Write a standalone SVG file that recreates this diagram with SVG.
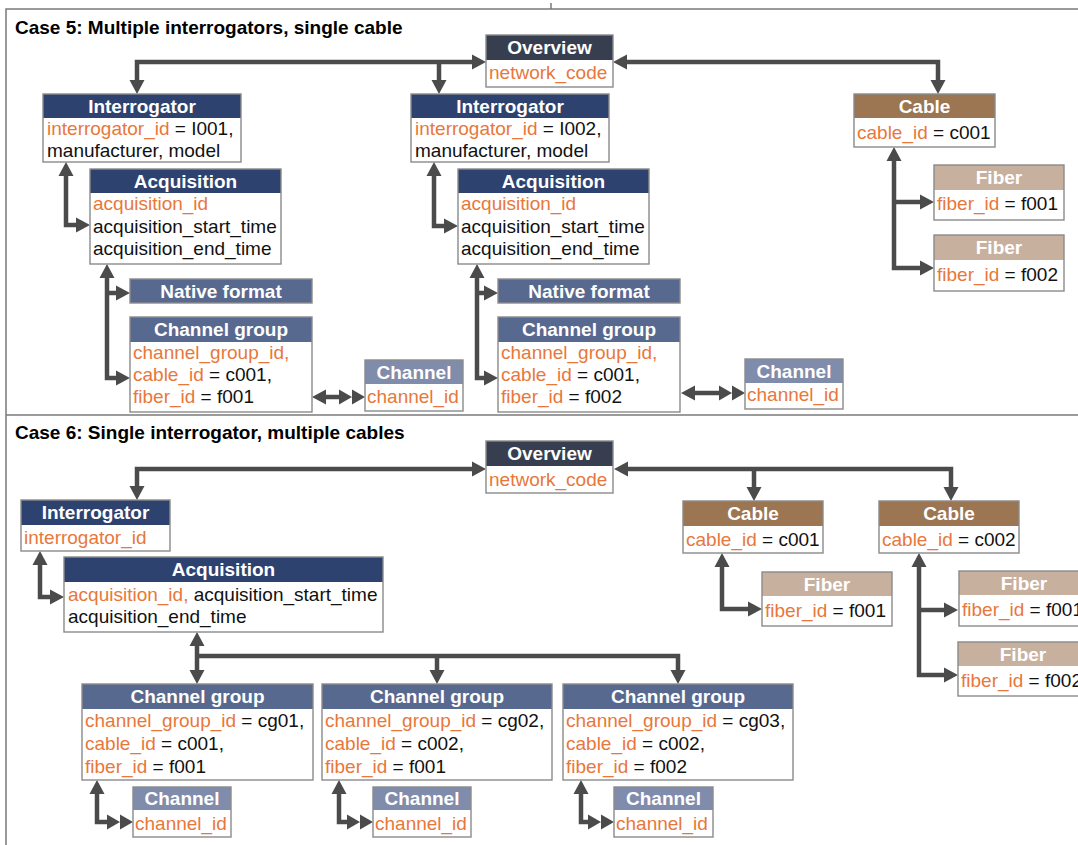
<svg xmlns="http://www.w3.org/2000/svg" width="1078" height="845" viewBox="0 0 1078 845">
  <defs>
    <style>
      text { font-family: "Liberation Sans", Arial, Helvetica, sans-serif; font-size: 19px; }
      .title { font-weight: bold; fill: #000; }
      .hd { font-weight: bold; fill: #fff; text-anchor: middle; }
      .bd { fill: #111; }
      .k { fill: #e8773b; }
      .body { fill: #fff; }
      .outline { fill: none; stroke: #8a8a8a; stroke-width: 1.4; }
      .c-ov { fill: #363e50; }
      .c-nv { fill: #2e426f; }
      .c-sl { fill: #58698f; }
      .c-ch { fill: #7f8cab; }
      .c-ca { fill: #9c7553; }
      .c-fi { fill: #c8b09f; }
      .frame { fill: none; stroke: #7a7a7a; stroke-width: 1.5; }
      .link { fill: none; stroke: #4b4b4b; stroke-width: 4.5; }
      .both { marker-start: url(#head); marker-end: url(#head); }
      .end { marker-end: url(#head); }
      .many { marker-start: url(#head); marker-end: url(#head2); }
    </style>
    <!-- single arrowhead, base sits at the path end -->
    <marker id="head" markerUnits="userSpaceOnUse" markerWidth="16" markerHeight="16" refX="0" refY="7.5" orient="auto-start-reverse" overflow="visible">
      <path d="M0,0 L14,7.5 L0,15 Z" fill="#4b4b4b"/>
    </marker>
    <!-- double arrowhead for one-to-many ends -->
    <marker id="head2" markerUnits="userSpaceOnUse" markerWidth="28" markerHeight="16" refX="0" refY="7.5" orient="auto" overflow="visible">
      <path d="M0,0 L13,7.5 L0,15 Z M13,0 L26,7.5 L13,15 Z" fill="#4b4b4b"/>
    </marker>
  </defs>

  <rect width="1078" height="845" fill="#fff"/>

  <!-- panel frames -->
  <g id="frames">
    <path class="frame" d="M6,845 L6,9 L1078,9"/>
    <path class="frame" d="M6,415 L1078,415"/>
    <path class="frame" d="M551,3 L551,9"/>
  </g>

  <text class="title" x="15" y="34">Case 5: Multiple interrogators, single cable</text>
  <text class="title" x="15" y="439">Case 6: Single interrogator, multiple cables</text>

  <!-- connectors -->
  <g id="connectors">
    <!-- case 5 -->
    <path class="link both" d="M137,80 L137,62 L472,62"/>
    <path class="link end" d="M439,62 L439,80"/>
    <path class="link both" d="M627,62 L938,62 L938,80"/>
    <path class="link both" d="M894,161 L894,268 L920,268"/>
    <path class="link end" d="M894,202 L920,202"/>
    <path class="link both" d="M66,176 L66,225 L76,225"/>
    <path class="link both" d="M107,278 L107,378 L116,378"/>
    <path class="link end" d="M107,293 L116,293"/>
    <path class="link many" d="M326,397 L339,397"/>
    <path class="link both" d="M434,176 L434,226 L444,226"/>
    <path class="link both" d="M477,278 L477,378 L484,378"/>
    <path class="link end" d="M477,293 L484,293"/>
    <path class="link many" d="M695,393 L719,393"/>
    <!-- case 6 -->
    <path class="link both" d="M137,486 L137,469 L472,469"/>
    <path class="link both" d="M628,469 L951,469 L951,487"/>
    <path class="link end" d="M754,469 L754,487"/>
    <path class="link both" d="M722,567 L722,609 L748,609"/>
    <path class="link both" d="M919,567 L919,675 L944,675"/>
    <path class="link end" d="M919,610 L944,610"/>
    <path class="link both" d="M40,565 L40,597 L50,597"/>
    <path class="link both" d="M197,646 L197,670"/>
    <path class="link end" d="M197,656 L678,656 L678,670"/>
    <path class="link end" d="M437,656 L437,670"/>
    <path class="link many" d="M97,794 L97,822 L107,822"/>
    <path class="link many" d="M339,794 L339,822 L347,822"/>
    <path class="link many" d="M581,794 L581,822 L588,822"/>
  </g>

  <!-- ===== Case 5 nodes ===== -->
  <g id="c5-overview">
    <rect class="body" x="486" y="35" width="127" height="52"/>
    <rect class="c-ov" x="486" y="35" width="127" height="25"/>
    <rect class="outline" x="486" y="35" width="127" height="52"/>
    <text class="hd" x="549.5" y="54">Overview</text>
    <text class="k" x="489" y="79">network_code</text>
  </g>

  <g id="c5-interrogator-1">
    <rect class="body" x="43" y="94" width="198" height="68"/>
    <rect class="c-nv" x="43" y="94" width="198" height="24"/>
    <rect class="outline" x="43" y="94" width="198" height="68"/>
    <text class="hd" x="142" y="113">Interrogator</text>
    <text class="bd" x="47" y="135"><tspan class="k">interrogator_id</tspan> = I001,</text>
    <text class="bd" x="47" y="157">manufacturer, model</text>
  </g>

  <g id="c5-interrogator-2">
    <rect class="body" x="411" y="94" width="198" height="68"/>
    <rect class="c-nv" x="411" y="94" width="198" height="24"/>
    <rect class="outline" x="411" y="94" width="198" height="68"/>
    <text class="hd" x="510" y="113">Interrogator</text>
    <text class="bd" x="415" y="135"><tspan class="k">interrogator_id</tspan> = I002,</text>
    <text class="bd" x="415" y="157">manufacturer, model</text>
  </g>

  <g id="c5-cable">
    <rect class="body" x="854" y="94" width="141" height="53"/>
    <rect class="c-ca" x="854" y="94" width="141" height="24"/>
    <rect class="outline" x="854" y="94" width="141" height="53"/>
    <text class="hd" x="924.5" y="113">Cable</text>
    <text class="bd" x="857" y="139"><tspan class="k">cable_id</tspan> = c001</text>
  </g>

  <g id="c5-fiber-1">
    <rect class="body" x="934" y="165" width="130" height="55"/>
    <rect class="c-fi" x="934" y="165" width="130" height="25"/>
    <rect class="outline" x="934" y="165" width="130" height="55"/>
    <text class="hd" x="999" y="184">Fiber</text>
    <text class="bd" x="937" y="210"><tspan class="k">fiber_id</tspan> = f001</text>
  </g>

  <g id="c5-fiber-2">
    <rect class="body" x="934" y="235" width="130" height="56"/>
    <rect class="c-fi" x="934" y="235" width="130" height="25"/>
    <rect class="outline" x="934" y="235" width="130" height="56"/>
    <text class="hd" x="999" y="254">Fiber</text>
    <text class="bd" x="937" y="281"><tspan class="k">fiber_id</tspan> = f002</text>
  </g>

  <g id="c5-acquisition-1">
    <rect class="body" x="90" y="169" width="191" height="95"/>
    <rect class="c-nv" x="90" y="169" width="191" height="24"/>
    <rect class="outline" x="90" y="169" width="191" height="95"/>
    <text class="hd" x="185.5" y="188">Acquisition</text>
    <text class="k" x="93" y="210">acquisition_id</text>
    <text class="bd" x="93" y="233">acquisition_start_time</text>
    <text class="bd" x="93" y="255">acquisition_end_time</text>
  </g>

  <g id="c5-native-1">
    <rect class="c-sl" x="130" y="279" width="182" height="24"/>
    <rect class="outline" x="130" y="279" width="182" height="24"/>
    <text class="hd" x="221" y="298">Native format</text>
  </g>

  <g id="c5-channel-group-1">
    <rect class="body" x="130" y="317" width="182" height="95"/>
    <rect class="c-sl" x="130" y="317" width="182" height="25"/>
    <rect class="outline" x="130" y="317" width="182" height="95"/>
    <text class="hd" x="221" y="336">Channel group</text>
    <text class="k" x="133" y="359">channel_group_id,</text>
    <text class="bd" x="133" y="381"><tspan class="k">cable_id</tspan> = c001,</text>
    <text class="bd" x="133" y="403"><tspan class="k">fiber_id</tspan> = f001</text>
  </g>

  <g id="c5-channel-1">
    <rect class="body" x="365" y="360" width="98" height="51"/>
    <rect class="c-ch" x="365" y="360" width="98" height="24"/>
    <rect class="outline" x="365" y="360" width="98" height="51"/>
    <text class="hd" x="414" y="379">Channel</text>
    <text class="k" x="367" y="403">channel_id</text>
  </g>

  <g id="c5-acquisition-2">
    <rect class="body" x="458" y="169" width="191" height="95"/>
    <rect class="c-nv" x="458" y="169" width="191" height="24"/>
    <rect class="outline" x="458" y="169" width="191" height="95"/>
    <text class="hd" x="553.5" y="188">Acquisition</text>
    <text class="k" x="461" y="210">acquisition_id</text>
    <text class="bd" x="461" y="233">acquisition_start_time</text>
    <text class="bd" x="461" y="255">acquisition_end_time</text>
  </g>

  <g id="c5-native-2">
    <rect class="c-sl" x="498" y="279" width="182" height="24"/>
    <rect class="outline" x="498" y="279" width="182" height="24"/>
    <text class="hd" x="589" y="298">Native format</text>
  </g>

  <g id="c5-channel-group-2">
    <rect class="body" x="498" y="317" width="182" height="95"/>
    <rect class="c-sl" x="498" y="317" width="182" height="25"/>
    <rect class="outline" x="498" y="317" width="182" height="95"/>
    <text class="hd" x="589" y="336">Channel group</text>
    <text class="k" x="501" y="359">channel_group_id,</text>
    <text class="bd" x="501" y="381"><tspan class="k">cable_id</tspan> = c001,</text>
    <text class="bd" x="501" y="403"><tspan class="k">fiber_id</tspan> = f002</text>
  </g>

  <g id="c5-channel-2">
    <rect class="body" x="745" y="359" width="98" height="50"/>
    <rect class="c-ch" x="745" y="359" width="98" height="24"/>
    <rect class="outline" x="745" y="359" width="98" height="50"/>
    <text class="hd" x="794" y="378">Channel</text>
    <text class="k" x="747" y="401">channel_id</text>
  </g>

  <!-- ===== Case 6 nodes ===== -->
  <g id="c6-overview">
    <rect class="body" x="486" y="441" width="127" height="52"/>
    <rect class="c-ov" x="486" y="441" width="127" height="25"/>
    <rect class="outline" x="486" y="441" width="127" height="52"/>
    <text class="hd" x="549.5" y="460">Overview</text>
    <text class="k" x="489" y="486">network_code</text>
  </g>

  <g id="c6-interrogator">
    <rect class="body" x="21" y="500" width="149" height="51"/>
    <rect class="c-nv" x="21" y="500" width="149" height="25"/>
    <rect class="outline" x="21" y="500" width="149" height="51"/>
    <text class="hd" x="95.5" y="519">Interrogator</text>
    <text class="k" x="24" y="544">interrogator_id</text>
  </g>

  <g id="c6-acquisition">
    <rect class="body" x="64" y="557" width="319" height="75"/>
    <rect class="c-nv" x="64" y="557" width="319" height="25"/>
    <rect class="outline" x="64" y="557" width="319" height="75"/>
    <text class="hd" x="223.5" y="576">Acquisition</text>
    <text class="bd" x="68" y="601"><tspan class="k">acquisition_id,</tspan> acquisition_start_time</text>
    <text class="bd" x="68" y="623">acquisition_end_time</text>
  </g>

  <g id="c6-cable-1">
    <rect class="body" x="683" y="501" width="140" height="52"/>
    <rect class="c-ca" x="683" y="501" width="140" height="25"/>
    <rect class="outline" x="683" y="501" width="140" height="52"/>
    <text class="hd" x="753" y="520">Cable</text>
    <text class="bd" x="686" y="546"><tspan class="k">cable_id</tspan> = c001</text>
  </g>

  <g id="c6-cable-2">
    <rect class="body" x="879" y="501" width="140" height="52"/>
    <rect class="c-ca" x="879" y="501" width="140" height="25"/>
    <rect class="outline" x="879" y="501" width="140" height="52"/>
    <text class="hd" x="949" y="520">Cable</text>
    <text class="bd" x="882" y="546"><tspan class="k">cable_id</tspan> = c002</text>
  </g>

  <g id="c6-fiber-c001">
    <rect class="body" x="762" y="572" width="130" height="54"/>
    <rect class="c-fi" x="762" y="572" width="130" height="24"/>
    <rect class="outline" x="762" y="572" width="130" height="54"/>
    <text class="hd" x="827" y="591">Fiber</text>
    <text class="bd" x="765" y="617"><tspan class="k">fiber_id</tspan> = f001</text>
  </g>

  <g id="c6-fiber-c002-1">
    <rect class="body" x="959" y="571" width="130" height="55"/>
    <rect class="c-fi" x="959" y="571" width="130" height="24"/>
    <rect class="outline" x="959" y="571" width="130" height="55"/>
    <text class="hd" x="1024" y="590">Fiber</text>
    <text class="bd" x="962" y="616"><tspan class="k">fiber_id</tspan> = f001</text>
  </g>

  <g id="c6-fiber-c002-2">
    <rect class="body" x="958" y="642" width="130" height="54"/>
    <rect class="c-fi" x="958" y="642" width="130" height="24"/>
    <rect class="outline" x="958" y="642" width="130" height="54"/>
    <text class="hd" x="1023" y="661">Fiber</text>
    <text class="bd" x="961" y="687"><tspan class="k">fiber_id</tspan> = f002</text>
  </g>

  <g id="c6-channel-group-1">
    <rect class="body" x="82" y="684" width="231" height="96"/>
    <rect class="c-sl" x="82" y="684" width="231" height="25"/>
    <rect class="outline" x="82" y="684" width="231" height="96"/>
    <text class="hd" x="197.5" y="703">Channel group</text>
    <text class="bd" x="85" y="727"><tspan class="k">channel_group_id</tspan> = cg01,</text>
    <text class="bd" x="85" y="750"><tspan class="k">cable_id</tspan> = c001,</text>
    <text class="bd" x="85" y="773"><tspan class="k">fiber_id</tspan> = f001</text>
  </g>

  <g id="c6-channel-group-2">
    <rect class="body" x="322" y="684" width="230" height="96"/>
    <rect class="c-sl" x="322" y="684" width="230" height="25"/>
    <rect class="outline" x="322" y="684" width="230" height="96"/>
    <text class="hd" x="437" y="703">Channel group</text>
    <text class="bd" x="325" y="727"><tspan class="k">channel_group_id</tspan> = cg02,</text>
    <text class="bd" x="325" y="750"><tspan class="k">cable_id</tspan> = c002,</text>
    <text class="bd" x="325" y="773"><tspan class="k">fiber_id</tspan> = f001</text>
  </g>

  <g id="c6-channel-group-3">
    <rect class="body" x="563" y="684" width="230" height="96"/>
    <rect class="c-sl" x="563" y="684" width="230" height="25"/>
    <rect class="outline" x="563" y="684" width="230" height="96"/>
    <text class="hd" x="678" y="703">Channel group</text>
    <text class="bd" x="566" y="727"><tspan class="k">channel_group_id</tspan> = cg03,</text>
    <text class="bd" x="566" y="750"><tspan class="k">cable_id</tspan> = c002,</text>
    <text class="bd" x="566" y="773"><tspan class="k">fiber_id</tspan> = f002</text>
  </g>

  <g id="c6-channel-1">
    <rect class="body" x="133" y="787" width="98" height="50"/>
    <rect class="c-ch" x="133" y="787" width="98" height="23"/>
    <rect class="outline" x="133" y="787" width="98" height="50"/>
    <text class="hd" x="182" y="805">Channel</text>
    <text class="k" x="135" y="830">channel_id</text>
  </g>

  <g id="c6-channel-2">
    <rect class="body" x="373" y="787" width="98" height="50"/>
    <rect class="c-ch" x="373" y="787" width="98" height="23"/>
    <rect class="outline" x="373" y="787" width="98" height="50"/>
    <text class="hd" x="422" y="805">Channel</text>
    <text class="k" x="375" y="830">channel_id</text>
  </g>

  <g id="c6-channel-3">
    <rect class="body" x="614" y="787" width="99" height="50"/>
    <rect class="c-ch" x="614" y="787" width="99" height="23"/>
    <rect class="outline" x="614" y="787" width="99" height="50"/>
    <text class="hd" x="663.5" y="805">Channel</text>
    <text class="k" x="616" y="830">channel_id</text>
  </g>
</svg>
